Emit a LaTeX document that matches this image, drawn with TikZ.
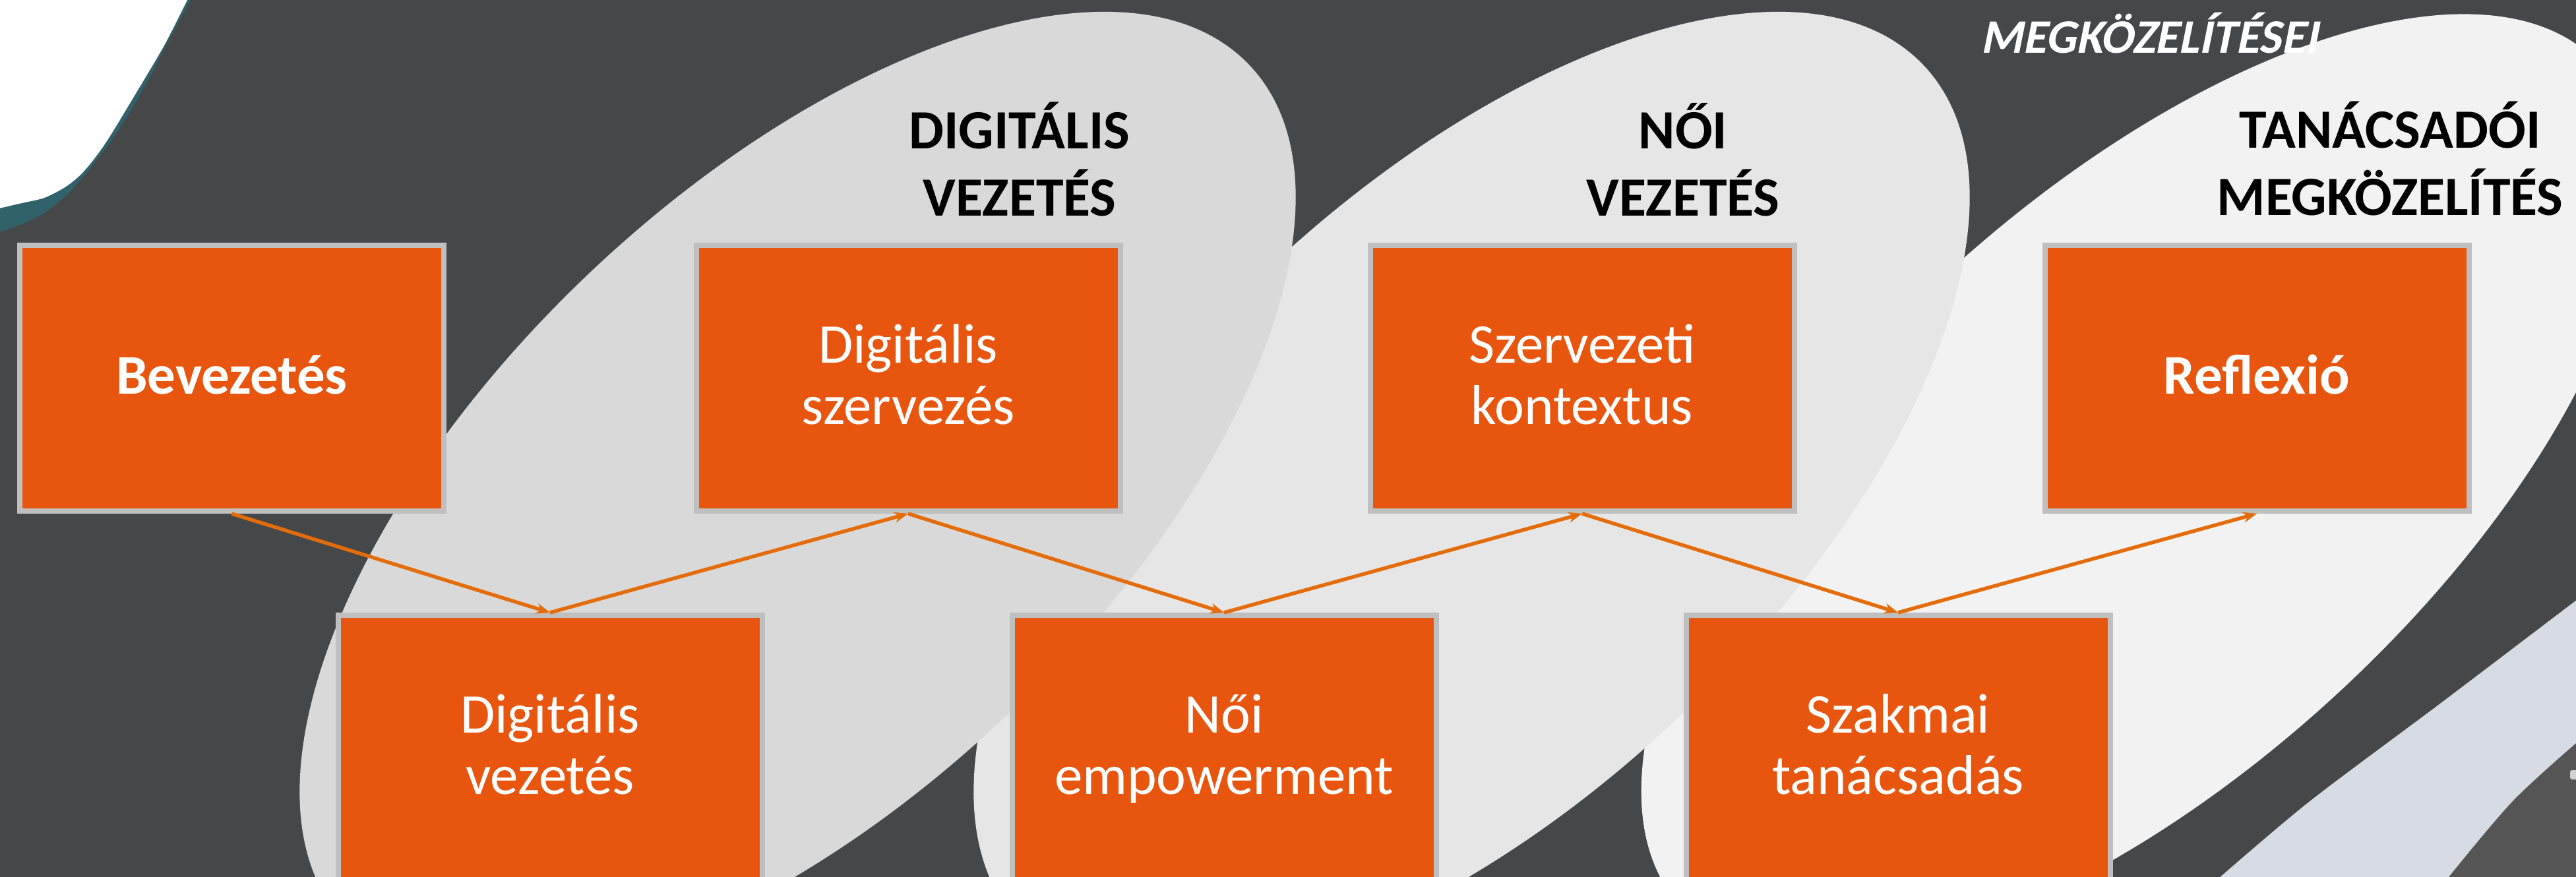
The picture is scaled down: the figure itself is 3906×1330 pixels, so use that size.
\documentclass[tikz,border=0pt]{standalone}
\usepackage{fontspec}
\setmainfont{Carlito}
\newfontfamily\slantbold{Carlito Bold}[FakeSlant=0.2]
\usetikzlibrary{arrows.meta}
\definecolor{bgdark}{HTML}{464749}
\definecolor{ellA}{HTML}{D9D9D9}
\definecolor{ellB}{HTML}{E6E6E6}
\definecolor{ellC}{HTML}{F2F2F2}
\definecolor{boxfill}{HTML}{E8550E}
\definecolor{boxline}{HTML}{BFBFBF}
\definecolor{arrowor}{HTML}{E46C0A}
\definecolor{tealc}{HTML}{31616A}
\definecolor{lblue}{HTML}{D7DCE4}
\definecolor{dgrayb}{HTML}{555555}
\definecolor{markg}{HTML}{D0D0D0}
\newcommand\boxtxt[1]{\begin{tabular}{@{}c@{}}\rule{0pt}{75pt}#1\end{tabular}}
\newcommand\hdrtxt[1]{\begin{tabular}[t]{@{}c@{}}#1\end{tabular}}
\begin{document}
\begin{tikzpicture}[x=1pt,y=-1pt,
  stepbox/.style={draw=boxline, line width=8pt, fill=boxfill, minimum width=643pt,
    minimum height=403pt, inner sep=0pt, text=white, font=\fontsize{85}{93}\selectfont},
  boldbox/.style={stepbox, font=\bfseries\fontsize{85}{93}\selectfont},
  hdr/.style={anchor=base, inner sep=0pt, text=black, font=\bfseries\fontsize{84}{102}\selectfont},
  arr/.style={draw=arrowor, line width=5.5pt, -{Stealth[length=21pt,width=16pt]}}]
\useasboundingbox (0,0) rectangle (3906,1330);
\clip (0,0) rectangle (3906,1330);
\fill[bgdark] (0,0) rectangle (3906,1330);
% top-left corner decoration
\fill[tealc] (-10,-10) -- plot[smooth] coordinates {(290,-2) (253,67) (213,143) (173,207) (133,260) (100,297) (67,323) (33,340) (-10,354)} -- cycle;
\fill[white] (-10,-10) -- plot[smooth] coordinates {(285,-2) (250,67) (207,140) (160,217) (127,260) (100,283) (67,300) (33,308) (-10,318)} -- cycle;
% three tilted ellipses (the third lowest, the first on top)
\begin{scope}[shift={(3245,736)}, rotate=42.5]
  \fill[ellC] (0,0) ellipse [x radius=945, y radius=435];
\end{scope}
\begin{scope}[shift={(2231.5,750)}, rotate=43.56]
  \fill[ellB] (0,0) ellipse [x radius=945.2, y radius=461];
\end{scope}
\begin{scope}[shift={(1209.5,750)}, rotate=43.56]
  \fill[ellA] (0,0) ellipse [x radius=945.2, y radius=461];
\end{scope}
% bottom-right decoration
\fill[lblue] plot[smooth] coordinates {(3920,900) (3700,1067) (3500,1217) (3355,1340)} -- (3920,1340) -- cycle;
\fill[dgrayb] plot[smooth] coordinates {(3920,1115) (3810,1215) (3705,1340)} -- (3920,1340) -- cycle;
\fill[markg, rounded corners=3pt] (3897,1168) rectangle (3915,1182);
% headings
\node[hdr] (h1) at (1546,225) {\hdrtxt{DIGITÁLIS\\VEZETÉS}};
\node[hdr] (h2) at (2552,225) {\hdrtxt{NŐI\\VEZETÉS}};
\node[hdr] (h3) at (3624,224) {\hdrtxt{TANÁCSADÓI\\MEGKÖZELÍTÉS}};
% boxes
\node[boldbox] (bev) at (351.5,573.5) {\boxtxt{Bevezetés}};
\node[stepbox] (dsz) at (1377,573.5) {\boxtxt{Digitális\\szervezés}};
\node[stepbox] (szk) at (2399,573.5) {\boxtxt{Szervezeti\\kontextus}};
\node[boldbox] (ref) at (3422,573.5) {\boxtxt{Reflexió}};
\node[stepbox] (dv) at (834,1134.5) {\boxtxt{Digitális\\vezetés}};
\node[stepbox] (ne) at (1856,1134.5) {\boxtxt{Női\\empowerment}};
\node[stepbox] (szt) at (2878,1134.5) {\boxtxt{Szakmai\\tanácsadás}};
% arrows
\draw[arr] (bev.south) -- (dv.north);
\draw[arr] (dv.north) -- (dsz.south);
\draw[arr] (dsz.south) -- (ne.north);
\draw[arr] (ne.north) -- (szk.south);
\draw[arr] (szk.south) -- (szt.north);
\draw[arr] (szt.north) -- (ref.south);
% title fragment
\node[anchor=base west, inner sep=0pt, text=white, font=\slantbold\fontsize{73}{80}\selectfont] (ttl) at (3003,81) {MEGKÖZELÍTÉSEI};
\end{tikzpicture}
\end{document}
